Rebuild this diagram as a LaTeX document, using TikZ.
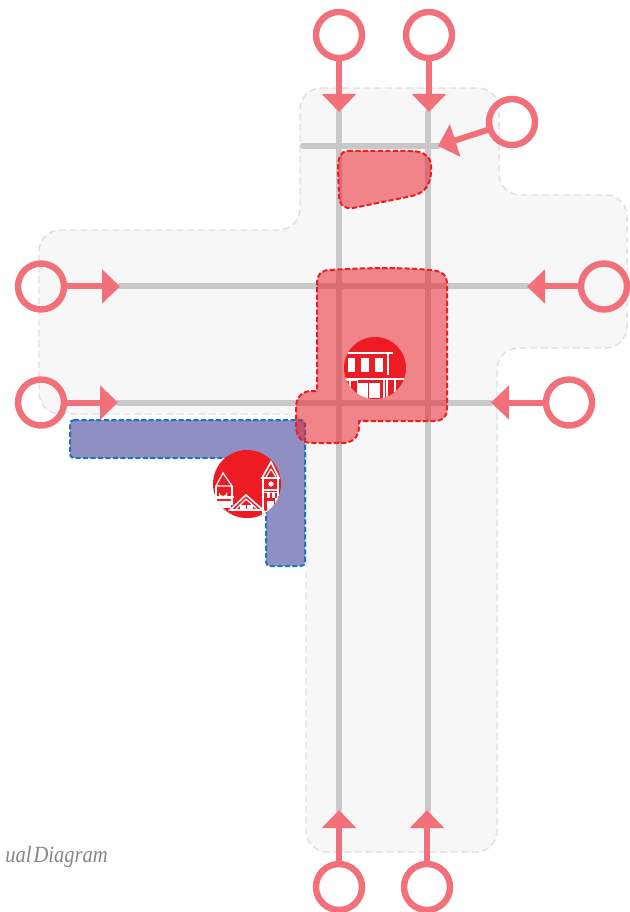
\documentclass[tikz,border=0pt]{standalone}
\usepackage{fontspec}
\setmainfont{Liberation Serif}
\usetikzlibrary{arrows.meta}
\definecolor{ringc}{HTML}{F2707A}
\definecolor{roadc}{HTML}{C8C8C8}
\definecolor{bgc}{HTML}{F7F7F7}
\definecolor{bgline}{HTML}{DEDEDE}
\definecolor{redc}{HTML}{ED1C24}
\definecolor{purplec}{HTML}{8F8FC3}
\definecolor{bluec}{HTML}{1B75BC}
\tikzset{
  x=0.75pt,y=-0.75pt,
  ring/.style={circle,draw=ringc,line width=4.8pt,fill=none,minimum size=34.5pt,inner sep=0pt,outer sep=0pt},
  road/.style={draw=roadc,line width=4.5pt,line cap=round},
  feed/.style={draw=ringc,line width=4.5pt,-{Triangle[length=13.5pt,width=25pt]}},
  site/.style={fill=redc,fill opacity=0.52,draw=redc,line width=1.5pt,dash pattern=on 3.8pt off 1.8pt},
  lot/.style={fill=purplec,draw=bluec,line width=1.5pt,dash pattern=on 3.8pt off 1.8pt},
  wl/.style={draw=white,line width=0.9pt},
  wf/.style={fill=white},
  badge/.style={circle,fill=redc,inner sep=0pt}
}
\begin{document}
\begin{tikzpicture}
\useasboundingbox (0,0) rectangle (629,912);
% zone
\draw[fill=bgc,draw=bgline,line width=1pt,dash pattern=on 5pt off 3pt,rounded corners=16pt]
 (300,88) -- (499,88) -- (499,195) -- (627,195) -- (627,348) -- (497,348) -- (497,852) -- (306,852) -- (306,414) -- (39,414) -- (39,230) -- (300,230) -- cycle;
% named ends
\coordinate (t1) at (339,112); \coordinate (b1) at (339,810);
\coordinate (t2) at (429,112); \coordinate (b2) at (427,810);
\coordinate (l1) at (120,286.5); \coordinate (r1) at (527,286.5);
\coordinate (l2) at (118,402.5); \coordinate (r2) at (491,402.5);
\coordinate (h1) at (303,146); \coordinate (h2) at (438,146);
% roads
\path[road] (t1) -- (b1);
\path[road] (428,112) -- (428,810);
\path[road] (l1) -- (r1);
\path[road] (l2) -- (r2);
\path[road] (h1) -- (h2);
% lot
\draw[lot,rounded corners=3pt] (70,420) -- (305,420) -- (305,566) -- (266,566) -- (266,458) -- (70,458) -- cycle;
% sites
\draw[site] (348,151) -- (410,151) .. controls (426,151) and (432,158) .. (431,170)
  .. controls (431,186) and (424,193) .. (412,196) -- (353,208)
  .. controls (343,209) and (339,204) .. (339,196) -- (338,168) .. controls (338,157) and (341,151) .. (348,151) -- cycle;
\draw[site] (330,270) .. controls (360,268) and (400,267) .. (430,270)
  .. controls (443,271) and (447,275) .. (447,285) -- (447,408)
  .. controls (447,417) and (443,421) .. (434,421) -- (359,421) -- (359,428)
  .. controls (358,438) and (352,443) .. (342,443) -- (312,443)
  .. controls (301,443) and (296,436) .. (296,426) -- (296,408)
  .. controls (296,397) and (302,391) .. (312,391) -- (317,391) -- (317,284)
  .. controls (317,274) and (322,270) .. (330,270) -- cycle;
% badge 1
\node[badge,minimum size=46.5pt] (bd1) at (375,368) {};
\begin{scope}
\clip (375,368) circle (31);
\draw[wl] (347,353) -- (393,353);
\draw[wl,line width=1.1pt] (388,353) -- (388,375);
\fill[wf] (347.5,358) rectangle (355,372);
\fill[wf] (361,358) rectangle (369,372);
\fill[wf] (375,358) rectangle (383,372);
\draw[wl,line width=1.5pt] (345,379) -- (405,379);
\fill[wf] (344,380) rectangle (358,400);
\fill[redc] (345,381) rectangle (349,391);
\fill[redc] (351,381) rectangle (357,400);
\fill[wf] (358,383) rectangle (368,398);
\fill[wf] (369,383) rectangle (380,398);
\draw[wl] (384,379) -- (384,400);
\draw[wl] (387,379) -- (387,400);
\draw[wl] (395,379) -- (395,392);
\end{scope}
% badge 2
\node[badge,minimum size=51pt] (bd2) at (247,484) {};
\begin{scope}
\clip (247,484) circle (34);
% left tower
\draw[wl] (223,473) -- (216,486) -- (232,486) -- cycle;
\draw[wl] (216,486) -- (216,510);
\draw[wl] (232,486) -- (232,505);
\draw[wl] (214,497) -- (234,497);
\fill[wf] (219,497) -- (219,492) arc (180:0:4) -- (227,497) -- cycle;
\fill[wf] (205,498) rectangle (231,508);
\fill[redc] (217,498.5) rectangle (231,501);
% right tower
\draw[wl,line width=1.2pt] (271,462) -- (262,478) -- (279,478) -- cycle;
\draw[wl] (271,469) -- (266,477);
\draw[wl] (271,469) -- (276,477);
\draw[wl] (263,478) -- (263,512);
\draw[wl] (278,478) -- (278,512);
\fill[wf] (271,484) circle (2.6);
\draw[wl] (262,490) -- (279,490);
\draw[wl] (262,492.5) -- (279,492.5);
\fill[wf] (267,493) rectangle (270,497.5);
\fill[wf] (272,493) rectangle (275,497.5);
\fill[wf] (267,501) rectangle (274,512);
\fill[wf] (275,498) rectangle (283,515);
% house
\draw[wl,line width=1.2pt] (246,495) -- (230,510) -- (263,510) -- cycle;
\draw[wl] (246,499) -- (236,509);
\draw[wl] (246,499) -- (257,509);
\fill[wf] (240,505) rectangle (246,510);
\fill[wf] (247,505) rectangle (253,510);
\fill[wf] (213,511) rectangle (283,520);
\fill[redc] (225,511) rectangle (262,520);
\end{scope}
% rings
\node[ring] (n1) at (339,35) {};
\node[ring] (n2) at (429,35) {};
\node[ring] (n3) at (512,122) {};
\node[ring] (w1) at (41,286.5) {};
\node[ring] (e1) at (604,286.5) {};
\node[ring] (w2) at (41,402.5) {};
\node[ring] (e2) at (569,402.5) {};
\node[ring] (s1) at (339,887) {};
\node[ring] (s2) at (427,887) {};
% feeders
\draw[feed] (n1) -- (t1);
\draw[feed] (n2) -- (t2);
\draw[feed] (n3) -- (h2);
\draw[feed] (w1) -- (l1);
\draw[feed] (e1) -- (r1);
\draw[feed] (w2) -- (l2);
\draw[feed] (e2) -- (r2);
\draw[feed] (s1) -- (b1);
\draw[feed] (s2) -- (b2);
% caption
\node[anchor=base east,inner sep=0pt,text=gray!95] (cap) at (108,862) {\scalebox{0.88}[1]{\fontsize{17.5}{19}\selectfont\itshape ual\hspace{0.1em}Diagram}};
\end{tikzpicture}
\end{document}
